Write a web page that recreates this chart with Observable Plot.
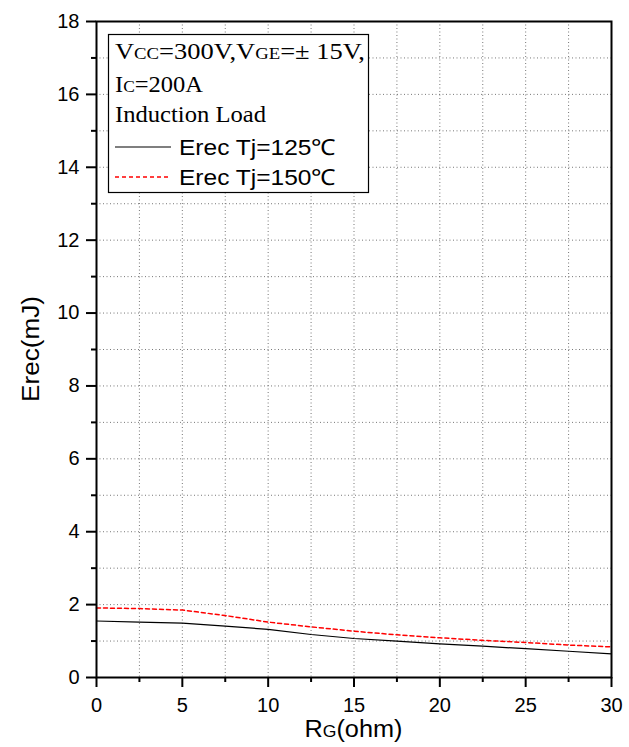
<!DOCTYPE html>
<html>
<head>
<meta charset="utf-8">
<script src="https://cdn.jsdelivr.net/npm/d3@7"></script>
<script src="https://cdn.jsdelivr.net/npm/@observablehq/plot@0.6"></script>
<style>
  html, body { margin: 0; padding: 0; background: #fff; }
  #chart svg { display: block; }
</style>
</head>
<body>
<div id="chart"></div>
<script>
// ---- data ----
const rg = [0, 2.5, 5, 7.5, 10, 12.5, 15, 17.5, 20, 22.5, 25, 27.5, 30];
const erec125 = [1.55, 1.52, 1.49, 1.41, 1.32, 1.18, 1.07, 1.00, 0.92, 0.86, 0.79, 0.72, 0.65];
const erec150 = [1.91, 1.89, 1.85, 1.70, 1.52, 1.39, 1.27, 1.17, 1.09, 1.02, 0.96, 0.89, 0.84];
const xMajor = [0, 5, 10, 15, 20, 25, 30];
const xMinor = [2.5, 7.5, 12.5, 17.5, 22.5, 27.5];
const yMajor = [0, 2, 4, 6, 8, 10, 12, 14, 16, 18];
const yMinor = [1, 3, 5, 7, 9, 11, 13, 15, 17];
const seriesNames = ["Erec Tj=125℃", "Erec Tj=150℃"];

const rows125 = rg.map((x, i) => ({x, y: erec125[i]}));
const rows150 = rg.map((x, i) => ({x, y: erec150[i]}));
const gridX = [...xMajor, ...xMinor].filter(v => v > 0 && v < 30);
const gridY = [...yMajor, ...yMinor].filter(v => v > 0 && v < 18);

const font = "'Liberation Sans', Arial, sans-serif";
const serif = "'Liberation Serif', 'Times New Roman', serif";

const W = 629, H = 747;
const mL = 96, mR = 18, mT = 21, mB = 70;

const chart = Plot.plot({
  width: W,
  height: H,
  marginLeft: mL,
  marginRight: mR,
  marginTop: mT,
  marginBottom: mB,
  style: {fontFamily: font, fontSize: "20px", color: "#000", background: "#fff"},
  x: {domain: [0, 30], label: null},
  y: {domain: [0, 18], label: null},
  marks: [
    Plot.gridX(gridX, {stroke: "#555", strokeOpacity: 0.8, strokeDasharray: "1,2.5", strokeWidth: 1}),
    Plot.gridY(gridY, {stroke: "#555", strokeOpacity: 0.8, strokeDasharray: "1,2.5", strokeWidth: 1}),
    Plot.axisX(xMajor, {tickSize: 10, tickPadding: 10, strokeWidth: 2, fontSize: 20, tickFormat: d => String(d)}),
    Plot.axisX(xMinor, {tickSize: 5, strokeWidth: 2, text: null}),
    Plot.axisY(yMajor, {tickSize: 10, tickPadding: 7, strokeWidth: 2, fontSize: 20, tickFormat: d => String(d)}),
    Plot.axisY(yMinor, {tickSize: 5, strokeWidth: 2, text: null}),
    Plot.line(rows125, {x: "x", y: "y", stroke: "#000", strokeWidth: 1.2}),
    Plot.line(rows150, {x: "x", y: "y", stroke: "#ff0000", strokeWidth: 1.5, strokeDasharray: "4,3"}),
    Plot.frame({stroke: "#000", strokeWidth: 2})
  ]
});

document.getElementById("chart").appendChild(chart);

const svg = d3.select(chart);

// axis titles
const xt = svg.append("text")
  .attr("x", mL + (W - mL - mR) / 2)
  .attr("y", 737)
  .attr("text-anchor", "middle")
  .attr("font-family", font)
  .attr("font-size", 23)
  .attr("textLength", 98)
  .attr("lengthAdjust", "spacingAndGlyphs")
  .attr("fill", "#000");
xt.append("tspan").text("R");
xt.append("tspan").attr("font-size", 16).text("G");
xt.append("tspan").text("(ohm)");

svg.append("text")
  .attr("transform", `translate(39,${mT + (H - mT - mB) / 2}) rotate(-90)`)
  .attr("text-anchor", "middle")
  .attr("font-family", font)
  .attr("font-size", 23)
  .attr("textLength", 106)
  .attr("lengthAdjust", "spacingAndGlyphs")
  .attr("fill", "#000")
  .text("Erec(mJ)");

// legend box
const lg = svg.append("g").attr("text-anchor", "start");
lg.append("rect")
  .attr("x", 108.5).attr("y", 34.5)
  .attr("width", 260).attr("height", 158)
  .attr("fill", "#fff")
  .attr("stroke", "#000")
  .attr("stroke-width", 1.2);

function serifLine(y, parts, len) {
  const t = lg.append("text")
    .attr("x", 115).attr("y", y)
    .attr("text-anchor", "start")
    .attr("font-family", serif)
    .attr("font-size", 24)
    .attr("fill", "#000");
  if (len) t.attr("textLength", len).attr("lengthAdjust", "spacingAndGlyphs");
  parts.forEach(([s, small]) => {
    const sp = t.append("tspan").text(s);
    if (small) sp.attr("font-size", 17);
  });
}
serifLine(59, [["V", false], ["CC", true], ["=300V,V", false], ["GE", true], ["=± 15V,", false]], 250);
serifLine(92, [["I", false], ["C", true], ["=200A", false]], 88);
serifLine(122, [["Induction Load", false]], 151);

const legendItems = [
  {name: seriesNames[0], y: 147, stroke: "#000", dash: null, w: 1.2},
  {name: seriesNames[1], y: 177, stroke: "#ff0000", dash: "4,3", w: 1.5}
];
legendItems.forEach(d => {
  const ln = lg.append("line")
    .attr("x1", 115).attr("x2", 171)
    .attr("y1", d.y).attr("y2", d.y)
    .attr("stroke", d.stroke)
    .attr("stroke-width", d.w);
  if (d.dash) ln.attr("stroke-dasharray", d.dash);
  lg.append("text")
    .attr("x", 179).attr("y", d.y + 8)
    .attr("text-anchor", "start")
    .attr("font-family", font)
    .attr("font-size", 22)
    .attr("textLength", 157)
    .attr("lengthAdjust", "spacingAndGlyphs")
    .attr("fill", "#000")
    .text(d.name);
});
</script>
</body>
</html>
